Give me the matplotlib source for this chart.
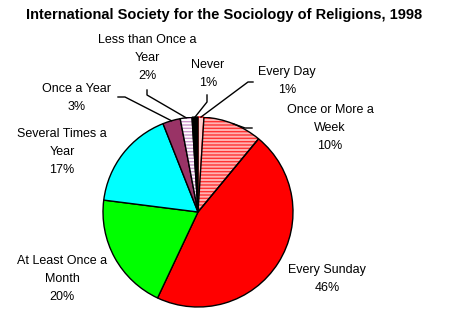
import matplotlib
matplotlib.use("Agg")
import matplotlib.pyplot as plt
from matplotlib.patches import Wedge
import numpy as np

plt.rcParams['font.family'] = ['Liberation Sans', 'DejaVu Sans']

labels = ["Every Day", "Once or More a\nWeek", "Every Sunday", "At Least Once a\nMonth",
          "Several Times a\nYear", "Once a Year", "Less than Once a\nYear", "Never"]
values = [1, 10, 46, 20, 17, 3, 2, 1]
colors = ["#FFCCCC", "#FFB3B3", "#FF0000", "#00FF00", "#00FFFF", "#993366", "#FFFFFF", "#000000"]

W, H = 449, 311
cx, cy, R = 198, 212, 95

fig = plt.figure(figsize=(W / 100, H / 100), dpi=100)
ax = fig.add_axes([(cx - R) / W, (H - cy - R) / H, 2 * R / W, 2 * R / H])


def px(x, y):
    # pixel position in the picture -> data coords of the pie axes
    return (x - cx) / R, (cy - y) / R


wedges, _ = ax.pie(values, colors=colors, startangle=90, counterclock=False, radius=1,
                   wedgeprops=dict(edgecolor='black', linewidth=1))
ax.set_xlim(-1, 1)
ax.set_ylim(-1, 1)
ax.axis('off')

# striped slices
for i, hcol in [(1, '#FF3333'), (6, '#CC99CC')]:
    w = wedges[i]
    w.set_hatch('-----')
    w.set_edgecolor(hcol)
    w.set_linewidth(0)
    ax.add_patch(Wedge(w.center, w.r, w.theta1, w.theta2, facecolor='none',
                       edgecolor='black', linewidth=1))
wedges[0].set_edgecolor('#FF0000')

fig.text(0.5, 0.975, "International Society for the Sociology of Religions, 1998",
         ha='center', va='top', fontsize=10.5, fontweight='bold')

# label text positions (pixels) and leader line bends
text_pos = [(287, 81), (330, 128), (327, 279), (62, 279), (62, 152), (77, 98), (147, 58), (208, 74)]
leaders = {0: [(253, 82), (248, 82)], 1: [(252, 128), (245, 128)],
           5: [(118, 97), (125, 97)], 6: [(147, 90), (147, 95)], 7: [(207, 95), (207, 102)]}

for i, (lab, v) in enumerate(zip(labels, values)):
    x, y = px(*text_pos[i])
    ax.text(x, y, f"{lab}\n{v}%", ha='center', va='center', fontsize=9, linespacing=1.72)
    if i in leaders:
        w = wedges[i]
        ang = np.deg2rad((w.theta1 + w.theta2) / 2)
        pts = [px(*p) for p in leaders[i]]
        pts.append((np.cos(ang) * 1.0, np.sin(ang) * 1.0))
        xs, ys = zip(*pts)
        ax.plot(xs, ys, color='black', linewidth=1, clip_on=False)

fig.savefig("out.png", dpi=100)
